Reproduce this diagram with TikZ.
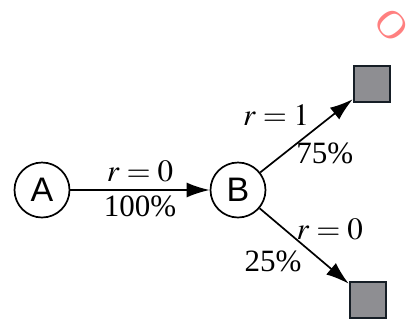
\documentclass[tikz,border=0pt]{standalone}
\usepackage{mathptmx}
\usepackage{fontspec}
\setmainfont{Liberation Serif}
\setsansfont{Liberation Sans}
\usetikzlibrary{arrows.meta}
\definecolor{leafgray}{RGB}{142,142,146}
\definecolor{leafdark}{RGB}{22,30,38}

\begin{document}
\begin{tikzpicture}[x=1pt,y=-1pt,
  state/.style={draw,circle,line width=1.7pt,minimum size=55pt,inner sep=0pt,font=\fontsize{34}{34}\sffamily},
  leaf/.style={draw=leafdark,line width=2.6pt,fill=leafgray,minimum size=36pt,inner sep=0pt},
  move/.style={line width=1.7pt,-{Latex[length=23pt,width=15pt]}},
  lbl/.style={inner sep=1pt,font=\fontsize{31}{31}\selectfont}]
\useasboundingbox (0,0) rectangle (420,322);
% states and leaves
\node[state] (A) at (42,190) {A};
\node[state] (B) at (238,190) {B};
\node[leaf] (L1) at (372,84) {};
\node[leaf] (L2) at (368,300) {};
% moves
\draw[move] (A) -- (B)
  node[lbl,midway,above=6pt] {$r=0$}
  node[lbl,midway,below=4pt] {100\%};
\draw[move] (B) -- (L1)
  node[lbl,pos=0.55,anchor=south east,yshift=5pt] {$r=1$}
  node[lbl,pos=0.37,anchor=north west,yshift=4pt] {75\%};
\draw[move] (B) -- (L2)
  node[lbl,pos=0.44,anchor=south west,xshift=-4pt] {$r=0$}
  node[lbl,pos=0.49,anchor=north east,yshift=-4pt] {25\%};
% watermark fragment
\node[text=red!50,rotate=-50,font=\fontsize{40}{40}\rmfamily] (wm) at (392,25) {O};
\end{tikzpicture}
\end{document}
